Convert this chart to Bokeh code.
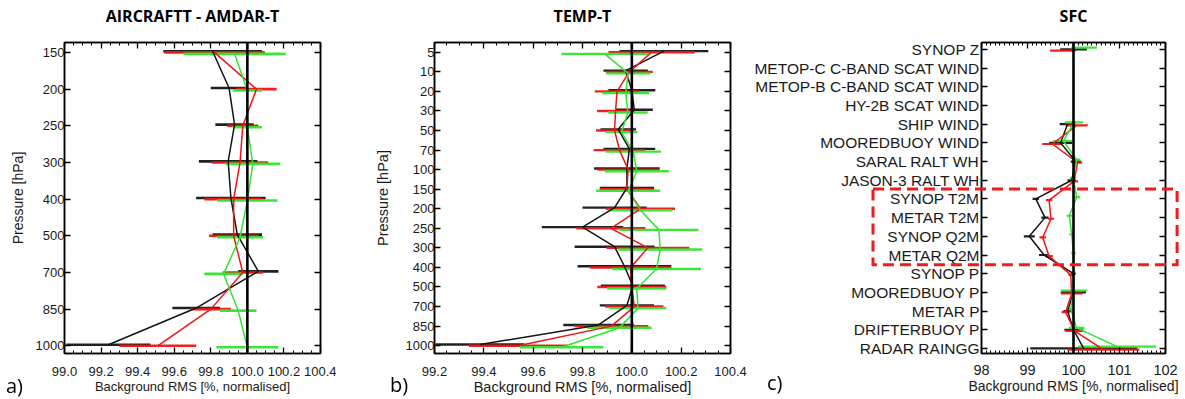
import numpy as np
from bokeh.plotting import figure
from bokeh.models import (Range1d, FixedTicker, SingleIntervalTicker, LinearAxis, Span,
                          ColumnDataSource, NumeralTickFormatter, Div)
from bokeh.layouts import row, column
from bokeh.embed import file_html
from bokeh.resources import INLINE

nan = float("nan")

# ---------------- Panel a: AIRCRAFTT - AMDAR-T ----------------
a_levels = [150, 200, 250, 300, 400, 500, 700, 850, 1000]
a_black = [99.81, 99.90, 99.93, 99.895, 99.91, 99.945, 100.06, 99.72, 99.24]
a_black_err = [0.27, 0.10, 0.105, 0.16, 0.19, 0.135, 0.11, 0.13, 0.23]
a_red = [99.82, 100.05, 99.975, 99.96, 99.925, 99.925, 99.975, 99.80, 99.51]
a_red_err = [0.275, 0.11, 0.085, 0.155, 0.16, 0.135, 0.11, 0.11, 0.21]
a_green = [99.93, 100.0, 100.0, 100.03, 100.0, 99.96, 99.87, 99.95, 100.0]
a_green_err = [0.28, 0.08, 0.08, 0.15, 0.165, 0.125, 0.105, 0.10, 0.17]

# ---------------- Panel b: TEMP-T ----------------
b_levels = [5, 10, 20, 30, 50, 70, 100, 150, 200, 250, 300, 400, 500, 700, 850, 1000]
b_black = [100.13, 99.975, 100.0, 100.01, 99.945, 99.99, 99.98, 99.98, 99.93, 99.80,
           99.93, 99.97, 100.004, 99.98, 99.865, 99.385]
b_black_err = [0.18, 0.09, 0.095, 0.075, 0.072, 0.105, 0.133, 0.11, 0.13, 0.165,
               0.162, 0.19, 0.13, 0.11, 0.143, 0.18]
b_red = [100.08, 99.99, 99.94, 99.934, 99.93, 99.95, 99.985, 99.98, 100.035, 99.915,
         100.065, 99.995, 100.0, 100.01, 99.917, 99.54]
b_red_err = [0.175, 0.095, 0.09, 0.075, 0.075, 0.105, 0.125, 0.11, 0.14, 0.14,
             0.168, 0.165, 0.14, 0.118, 0.15, 0.2]
b_green = [99.89, 99.985, 99.975, 99.984, 99.958, 100.006, 100.02, 99.985, 100.035, 100.11,
           100.115, 100.1, 100.02, 100.025, 99.95, 99.715]
b_green_err = [0.175, 0.09, 0.095, 0.08, 0.065, 0.112, 0.13, 0.13, 0.13, 0.16,
               0.17, 0.18, 0.12, 0.115, 0.13, 0.17]

# ---------------- Panel c: SFC ----------------
c_categories = ["SYNOP Z", "METOP-C C-BAND SCAT WIND", "METOP-B C-BAND SCAT WIND",
                "HY-2B SCAT WIND", "SHIP WIND", "MOOREDBUOY WIND", "SARAL RALT WH",
                "JASON-3 RALT WH", "SYNOP T2M", "METAR T2M", "SYNOP Q2M", "METAR Q2M",
                "SYNOP P", "MOOREDBUOY P", "METAR P", "DRIFTERBUOY P", "RADAR RAINGG"]
c_black = [100.0, nan, nan, nan, 99.87, 99.72, 100.05, 99.96, 99.18, 99.38, 99.04, 99.36,
           100.0, 100.0, 99.87, 100.0, 100.22]
c_black_err = [0.29, nan, nan, nan, 0.17, 0.25, 0.11, 0.09, 0.07, 0.08, 0.12, 0.11,
               0.05, 0.27, 0.09, 0.2, 1.16]
c_red = [99.77, nan, nan, nan, 100.07, 99.54, 100.09, 100.01, 99.47, 99.51, 99.33, 99.47,
         99.94, 99.96, 99.83, 100.02, 100.65]
c_red_err = [0.28, nan, nan, nan, 0.24, 0.22, 0.1, 0.09, 0.07, 0.07, 0.07, 0.08,
             0.05, 0.24, 0.09, 0.2, 0.78]
c_green = [100.23, nan, nan, nan, 100.01, 99.78, 100.07, 99.99, 100.07, 99.91, 99.96, 100.0,
           100.0, 100.01, 99.94, 100.07, 100.95]
c_green_err = [0.28, nan, nan, nan, 0.2, 0.22, 0.08, 0.07, 0.07, 0.06, 0.05, 0.05,
               0.04, 0.29, 0.07, 0.17, 0.85]

# highlighted block in panel c (first / last category inside the dashed box)
c_box_first = "SYNOP T2M"
c_box_last = "METAR Q2M"

panel_titles = ["AIRCRAFTT - AMDAR-T", "TEMP-T", "SFC"]
panel_letters = ["a)", "b)", "c)"]

BLACK = "#141414"
RED = "#f01414"
GREEN = "#2ee62e"
TXT = "#1a1a1a"
SANS = "Liberation Sans"
H = 399
TOP = 42


def style_axis(ax, show):
    ax.axis_line_color = "#000000"
    ax.axis_line_width = 1.5
    ax.major_tick_in = 6
    ax.major_tick_out = 0
    ax.minor_tick_in = 3
    ax.minor_tick_out = 0
    ax.major_tick_line_color = "#000000"
    ax.minor_tick_line_color = "#000000"
    ax.major_tick_line_width = 1.3
    ax.minor_tick_line_width = 1
    if not show:
        ax.major_label_text_font_size = "0px"
        ax.major_label_text_color = None
        ax.major_label_standoff = 0


def make_panel(title, labels, series, xr, interval, minor, fmt, width, mb_left, mb_right,
               mb_bottom, pad_top, pad_bot, tick_fs, xtick_standoff, xlab_fs, ylab, ylab_fs,
               ylab_standoff, ytick_standoff, offsets, bar_w, cat_fs=None):
    n = len(labels)
    p = figure(width=width, height=H, output_backend="svg", toolbar_location=None,
               x_range=Range1d(*xr), y_range=Range1d(n - 1 + pad_bot, -pad_top),
               min_border_left=mb_left, min_border_right=mb_right, min_border_top=TOP,
               min_border_bottom=mb_bottom, x_axis_type=None, y_axis_type=None)
    p.title.text = title
    p.title.align = "center"
    p.title.text_font = "Open Sans"
    p.title.text_font_style = "bold"
    p.title.text_font_size = "16px"
    p.title.text_color = "#000000"
    p.title.standoff = 2
    p.outline_line_color = "#000000"
    p.outline_line_width = 1.5
    p.xgrid.visible = False
    p.ygrid.visible = False
    p.background_fill_color = "white"
    p.border_fill_color = "white"

    idx = list(range(n))
    xticker = SingleIntervalTicker(interval=interval, num_minor_ticks=minor)
    yticker = FixedTicker(ticks=idx)

    xb = LinearAxis(ticker=xticker, formatter=NumeralTickFormatter(format=fmt),
                    axis_label="Background RMS [%, normalised]")
    style_axis(xb, True)
    xb.major_label_text_font = SANS
    xb.major_label_text_font_size = f"{tick_fs}px"
    xb.major_label_text_color = TXT
    xb.major_label_standoff = xtick_standoff
    xb.axis_label_text_font = SANS
    xb.axis_label_text_font_style = "normal"
    xb.axis_label_text_font_size = f"{xlab_fs}px"
    xb.axis_label_text_color = TXT
    xb.axis_label_standoff = 0
    p.add_layout(xb, "below")

    # mirrored ticks on the top edge
    xt = LinearAxis(ticker=xticker)
    style_axis(xt, False)
    p.add_layout(xt, "above")
    # invisible spacer that lifts the title towards the top edge
    sp = LinearAxis(ticker=xticker, axis_line_color=None, major_tick_line_color=None,
                    minor_tick_line_color=None, major_tick_in=0, major_tick_out=15,
                    minor_tick_in=0, minor_tick_out=0, major_label_text_color=None,
                    major_label_text_font_size="0px", major_label_standoff=0)
    p.add_layout(sp, "above")

    yl = LinearAxis(ticker=yticker, axis_label=ylab)
    style_axis(yl, True)
    yl.major_label_overrides = {i: str(l) for i, l in enumerate(labels)}
    yl.major_label_text_font = SANS
    yl.major_label_text_font_size = f"{cat_fs or tick_fs}px"
    yl.major_label_text_color = TXT
    yl.major_label_standoff = ytick_standoff
    if ylab:
        yl.axis_label_text_font = SANS
        yl.axis_label_text_font_style = "normal"
        yl.axis_label_text_font_size = f"{ylab_fs}px"
        yl.axis_label_text_color = TXT
        yl.axis_label_standoff = ylab_standoff
    p.add_layout(yl, "left")

    yr = LinearAxis(ticker=yticker)
    style_axis(yr, False)
    p.add_layout(yr, "right")

    p.add_layout(Span(location=100, dimension="height", line_color="#000000", line_width=2.6))

    colors = [BLACK, RED, GREEN]
    for (vals, errs), col, off in zip(series, colors, offsets):
        v = np.array(vals, dtype=float)
        e = np.array(errs, dtype=float)
        y = np.array(idx, dtype=float) + off
        src = ColumnDataSource(dict(x=v, lo=v - e, hi=v + e, y=y))
        p.segment(x0="lo", x1="hi", y0="y", y1="y", source=src, line_color=col,
                  line_width=bar_w, line_alpha=0.95)
    for (vals, errs), col, off in zip(series, colors, offsets):
        v = np.array(vals, dtype=float)
        y = np.array(idx, dtype=float) + off
        p.line(x=v, y=y, line_color=col, line_width=1.5)
    return p


# geometry of panel c (needed to place the overlay box in page pixels)
C_LEFT0, C_W, C_MBL, C_MBR, C_MBB = 748, 437, 233, 20, 46
C_XR = (98, 102)
C_PADT, C_PADB = 0.37, 0.27

pa = make_panel(panel_titles[0], a_levels,
                [(a_black, a_black_err), (a_red, a_red_err), (a_green, a_green_err)],
                (99.0, 100.4), 0.2, 4, "0.0", 336, 64, 16, 41, 0.27, 0.21,
                13, 13, 13, "Pressure [hPa]", 14, 7, 0, (-0.03, 0.0, 0.04), 2.6)
pb = make_panel(panel_titles[1], b_levels,
                [(b_black, b_black_err), (b_red, b_red_err), (b_green, b_green_err)],
                (99.2, 100.4), 0.2, 4, "0.0", 412, 98, 18, 41, 0.5, 0.4,
                13, 13, 14.5, "Pressure [hPa]", 14.5, 12, 0, (-0.06, 0.0, 0.08), 2.4)
pc = make_panel(panel_titles[2], c_categories,
                [(c_black, c_black_err), (c_red, c_red_err), (c_green, c_green_err)],
                C_XR, 1, 10, "0", C_W, C_MBL, C_MBR, C_MBB, C_PADT, C_PADB,
                14.5, 11, 14, None, 15, 0, 2, (0.0, 0.06, -0.1), 2.2, cat_fs=15.5)

# dashed highlight box (spills over the category labels, so it is an HTML overlay)
n_c = len(c_categories)
fx0 = C_LEFT0 + C_MBL
fw = C_W - C_MBL - C_MBR
fh = H - TOP - C_MBB
y_lo, y_hi = -C_PADT, n_c - 1 + C_PADB


def cx(v):
    return fx0 + (v - C_XR[0]) / (C_XR[1] - C_XR[0]) * fw


def cy(v):
    return TOP + (v - y_lo) / (y_hi - y_lo) * fh


i0 = c_categories.index(c_box_first)
i1 = c_categories.index(c_box_last)
bx0, bx1 = cx(95.65), cx(102.26)
by0, by1 = cy(i0 - 0.53), cy(i1 + 0.52)
bw, bh = bx1 - bx0, by1 - by0
box_svg = (f'<svg xmlns="http://www.w3.org/2000/svg" width="{bw + 4:.0f}" height="{bh + 4:.0f}">'
           f'<rect x="2" y="2" width="{bw:.1f}" height="{bh:.1f}" fill="none" stroke="#ee1c1c" '
           f'stroke-width="3" stroke-dasharray="11 6"/></svg>')
box_div = Div(text=box_svg, width=int(bw + 4), height=int(bh + 4),
              styles={"position": "fixed", "left": f"{bx0 - 2:.1f}px", "top": f"{by0 - 2:.1f}px",
                      "pointer-events": "none", "z-index": "10", "margin": "0", "padding": "0",
                      "line-height": "0"})

letter_pos = [(6, 375), (390, 374), (767, 372)]
letter_divs = [Div(text=t, styles={"position": "fixed", "left": f"{x}px", "top": f"{y}px",
                                   "font-family": "Open Sans", "font-size": "20px",
                                   "line-height": "1.1", "color": "#000000", "margin": "0",
                                   "padding": "0", "z-index": "10"})
               for t, (x, y) in zip(panel_letters, letter_pos)]

layout = column(row(pa, pb, pc), *letter_divs, box_div)
open("out.html", "w").write(file_html(layout, INLINE))
